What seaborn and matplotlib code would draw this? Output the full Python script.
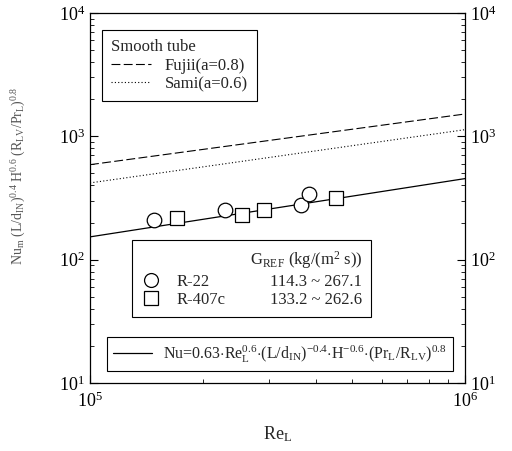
import matplotlib
matplotlib.use("Agg")
import matplotlib.pyplot as plt
import matplotlib.ticker as mticker
import seaborn as sns
import pandas as pd
from matplotlib.lines import Line2D

# ---- data ----
re_line = [1e5, 1e6]
nu_fit = [153, 454]
nu_fujii = [589, 1517]
nu_sami = [419, 1132]

re_r22 = [1.48e5, 2.29e5, 3.65e5, 3.85e5]
nu_r22 = [211, 254, 279, 343]
re_r407c = [1.71e5, 2.55e5, 2.92e5, 4.52e5]
nu_r407c = [218, 232, 251, 316]

x_ticks = [1e5, 1e6]
y_ticks = [1e1, 1e2, 1e3, 1e4]

sns.set_theme(style="ticks")
plt.rcParams['font.family'] = ['Liberation Serif', 'DejaVu Serif']
plt.rcParams['mathtext.fontset'] = 'custom'
plt.rcParams['mathtext.rm'] = 'Liberation Serif'
plt.rcParams['mathtext.it'] = 'Liberation Serif'

fig = plt.figure(figsize=(5.12, 4.51), dpi=100)
ax = fig.add_axes([0.1758, 0.1508, 0.7322, 0.8204])
ax.set_xscale('log')
ax.set_yscale('log')

lines_df = pd.DataFrame({'Re': re_line, 'fit': nu_fit, 'fujii': nu_fujii, 'sami': nu_sami})
sns.lineplot(data=lines_df, x='Re', y='fit', ax=ax, color='black', lw=0.9)
sns.lineplot(data=lines_df, x='Re', y='fujii', ax=ax, color='black', lw=0.8,
             linestyle=(0, (8, 3)))
sns.lineplot(data=lines_df, x='Re', y='sami', ax=ax, color='black', lw=0.8,
             linestyle=(0, (1, 2)))

sns.scatterplot(x=re_r22, y=nu_r22, ax=ax, marker='o', s=110, facecolor='white',
                edgecolor='black', linewidth=0.9, zorder=5)
sns.scatterplot(x=re_r407c, y=nu_r407c, ax=ax, marker='s', s=100, facecolor='white',
                edgecolor='black', linewidth=0.9, zorder=5)

ax.set_xlim(1e5, 1e6)
ax.set_ylim(1e1, 1e4)
ax.set_xticks(x_ticks)
ax.set_yticks(y_ticks)
ax.xaxis.set_minor_formatter(mticker.NullFormatter())
ax.yaxis.set_minor_formatter(mticker.NullFormatter())
ax.tick_params(which='both', direction='in', labelsize=13, colors='black')
ax.tick_params(axis='y', which='both', left=True, right=True, labelleft=True, labelright=True)
ax.tick_params(axis='x', which='both', top=False)
ax.tick_params(which='major', length=6, width=0.8)
ax.tick_params(which='minor', length=3, width=0.6)
ax.tick_params(axis='x', pad=6)
for s in ax.spines.values():
    s.set_color('black')
    s.set_linewidth(0.9)

ax.set_xlabel(r'Re$_\mathrm{L}$', fontsize=13, labelpad=10)
ax.set_ylabel(r'Nu$_\mathrm{m}$ (L/d$_\mathrm{IN}$)$^{0.4}$ H$^{0.6}$ (R$_\mathrm{LV}$/Pr$_\mathrm{L}$)$^{0.8}$',
              fontsize=10, color='#555555')
ax.yaxis.set_label_coords(-0.165, 0.56)

# Legend 1: smooth tube
h1 = [Line2D([], [], color='black', lw=0.8, linestyle=(0, (8, 3))),
      Line2D([], [], color='black', lw=0.8, linestyle=(0, (1, 2)))]
leg1 = ax.legend(h1, ['Fujii(a=0.8)', 'Sami(a=0.6)'], title='Smooth tube',
                 loc='upper left', bbox_to_anchor=(0.032, 0.954), fontsize=12,
                 title_fontsize=12, fancybox=False, edgecolor='black', framealpha=1,
                 handlelength=2.4, borderpad=0.55, labelspacing=0.15, borderaxespad=0)
leg1._legend_box.align = 'left'
leg1.get_frame().set_linewidth(0.8)
ax.add_artist(leg1)

# Legend 2: data
h2 = [Line2D([], [], marker='o', ls='none', mfc='white', mec='black', ms=10, mew=0.9),
      Line2D([], [], marker='s', ls='none', mfc='white', mec='black', ms=10, mew=0.9),
      Line2D([], [], ls='none'), Line2D([], [], ls='none')]
leg2 = ax.legend(h2, ['R-22', 'R-407c', '114.3 ~ 267.1', '133.2 ~ 262.6'],
                 ncol=2, title=r'G$_\mathrm{REF}$ (kg/(m$^2$ s))', alignment='right',
                 loc='upper left', bbox_to_anchor=(0.112, 0.386), fontsize=12,
                 title_fontsize=12, fancybox=False, edgecolor='black', framealpha=1,
                 handlelength=1.2, handletextpad=0.9, columnspacing=0.6,
                 borderpad=0.55, labelspacing=0.15, borderaxespad=0)
leg2.get_frame().set_linewidth(0.8)
ax.add_artist(leg2)

# Legend 3: correlation
h3 = [Line2D([], [], color='black', lw=0.9)]
leg3 = ax.legend(h3, [r'Nu=0.63$\cdot$Re$_\mathrm{L}^{0.6}$$\cdot$(L/d$_\mathrm{IN}$)$^{-0.4}$$\cdot$H$^{-0.6}$$\cdot$(Pr$_\mathrm{L}$/R$_\mathrm{LV}$)$^{0.8}$'],
                 loc='lower left', bbox_to_anchor=(0.045, 0.032), fontsize=11.5,
                 fancybox=False, edgecolor='black', framealpha=1,
                 handlelength=2.4, handletextpad=0.7, borderpad=0.4, borderaxespad=0)
leg3.get_frame().set_linewidth(0.8)

fig.savefig('out.png', dpi=100)
